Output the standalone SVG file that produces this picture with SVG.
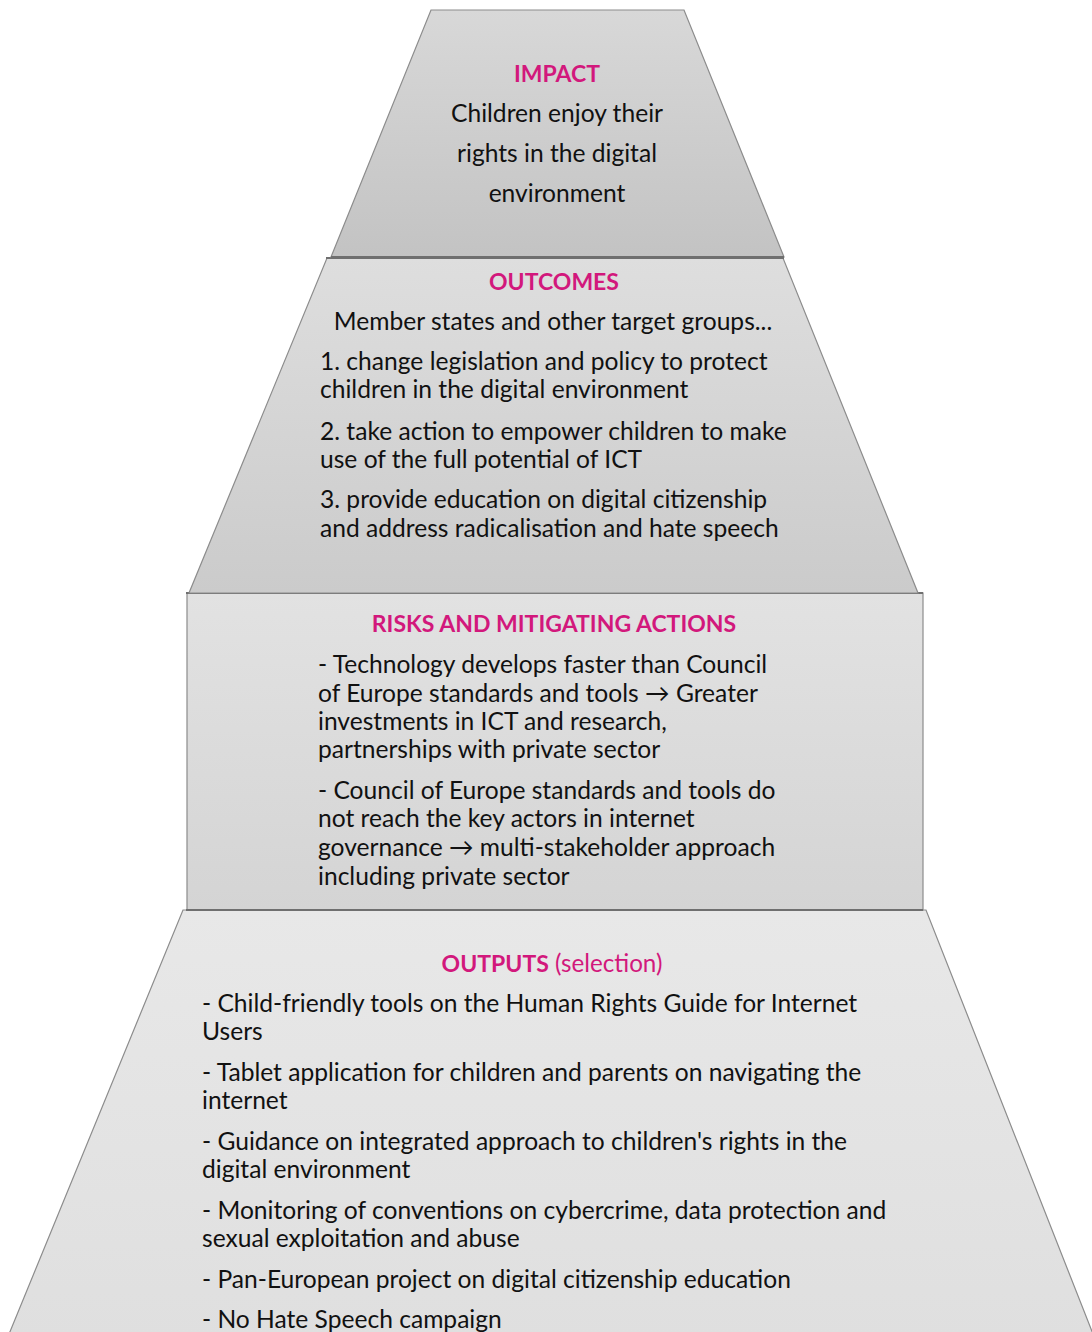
<svg xmlns="http://www.w3.org/2000/svg" width="1092" height="1332" viewBox="0 0 1092 1332">
  <style>
    .t { font-family: Lato, "Open Sans", "Liberation Sans", sans-serif; font-size: 24.6px; fill: #111111; }
    .h { font-family: Lato, "Open Sans", "Liberation Sans", sans-serif; font-size: 23px; font-weight: bold; fill: #d2187c; }
    .hn { font-weight: normal; font-size: 24.2px; }
    .c { text-anchor: middle; }
    .edge { stroke: #8c8c8c; stroke-width: 1.2; }
    .top { stroke: #6f6f6f; stroke-width: 2; fill: none; }
  </style>
  <defs>
    <linearGradient id="gImpact" x1="0" y1="0" x2="0" y2="1">
      <stop offset="0" stop-color="#d8d8d8"/>
      <stop offset="1" stop-color="#c3c3c3"/>
    </linearGradient>
    <linearGradient id="gOutcomes" x1="0" y1="0" x2="0" y2="1">
      <stop offset="0" stop-color="#dedede"/>
      <stop offset="1" stop-color="#cbcbcb"/>
    </linearGradient>
    <linearGradient id="gRisks" x1="0" y1="0" x2="0" y2="1">
      <stop offset="0" stop-color="#e2e2e2"/>
      <stop offset="1" stop-color="#d4d4d4"/>
    </linearGradient>
    <linearGradient id="gOutputs" x1="0" y1="0" x2="0" y2="1">
      <stop offset="0" stop-color="#e8e8e8"/>
      <stop offset="1" stop-color="#dfdfdf"/>
    </linearGradient>
  </defs>

  <rect width="1092" height="1332" fill="#ffffff"/>

  <!-- bottom tier: outputs -->
  <g id="outputs">
    <polygon class="edge" points="183,910 926,910 1095,1339 7,1339" fill="url(#gOutputs)"/>
    <text class="h c" x="552" y="972">OUTPUTS<tspan class="hn"> (selection)</tspan></text>
    <text class="t" x="202" y="1012">- Child-friendly tools on the Human Rights Guide for Internet</text>
    <text class="t" x="202" y="1040">Users</text>
    <text class="t" x="202" y="1081">- Tablet application for children and parents on navigating the</text>
    <text class="t" x="202" y="1109">internet</text>
    <text class="t" x="202" y="1150">- Guidance on integrated approach to children's rights in the</text>
    <text class="t" x="202" y="1178">digital environment</text>
    <text class="t" x="202" y="1219">- Monitoring of conventions on cybercrime, data protection and</text>
    <text class="t" x="202" y="1247">sexual exploitation and abuse</text>
    <text class="t" x="202" y="1288">- Pan-European project on digital citizenship education</text>
    <text class="t" x="202" y="1328">- No Hate Speech campaign</text>
  </g>

  <!-- third tier: risks -->
  <g id="risks">
    <rect class="edge" x="187" y="593" width="736" height="317" fill="url(#gRisks)"/>
    <line class="top" x1="186" y1="593" x2="923" y2="593"/>
    <line class="top" x1="186" y1="910" x2="923" y2="910"/>
    <text class="h c" x="554" y="632">RISKS AND MITIGATING ACTIONS</text>
    <text class="t" x="318" y="673">- Technology develops faster than Council</text>
    <text class="t" x="318" y="702">of Europe standards and tools → Greater</text>
    <text class="t" x="318" y="730">investments in ICT and research,</text>
    <text class="t" x="318" y="758">partnerships with private sector</text>
    <text class="t" x="318" y="799">- Council of Europe standards and tools do</text>
    <text class="t" x="318" y="827">not reach the key actors in internet</text>
    <text class="t" x="318" y="856">governance → multi-stakeholder approach</text>
    <text class="t" x="318" y="885">including private sector</text>
  </g>

  <!-- second tier: outcomes -->
  <g id="outcomes">
    <polygon class="edge" points="327,258 783,258 918,593 189,593" fill="url(#gOutcomes)"/>
    <line class="top" x1="326" y1="258" x2="784" y2="258"/>
    <text class="h c" x="554" y="290">OUTCOMES</text>
    <text class="t c" x="553" y="330">Member states and other target groups...</text>
    <text class="t" x="320" y="370">1. change legislation and policy to protect</text>
    <text class="t" x="320" y="398">children in the digital environment</text>
    <text class="t" x="320" y="440">2. take action to empower children to make</text>
    <text class="t" x="320" y="468">use of the full potential of ICT</text>
    <text class="t" x="320" y="508">3. provide education on digital citizenship</text>
    <text class="t" x="320" y="537">and address radicalisation and hate speech</text>
  </g>

  <!-- top tier: impact -->
  <g id="impact">
    <polygon class="edge" points="431,10 684,10 784,257 331,257" fill="url(#gImpact)"/>
    <line class="top" x1="331" y1="257" x2="784" y2="257"/>
    <text class="h c" x="557" y="82">IMPACT</text>
    <text class="t c" x="557" y="122">Children enjoy their</text>
    <text class="t c" x="557" y="162">rights in the digital</text>
    <text class="t c" x="557" y="202">environment</text>
  </g>
</svg>
